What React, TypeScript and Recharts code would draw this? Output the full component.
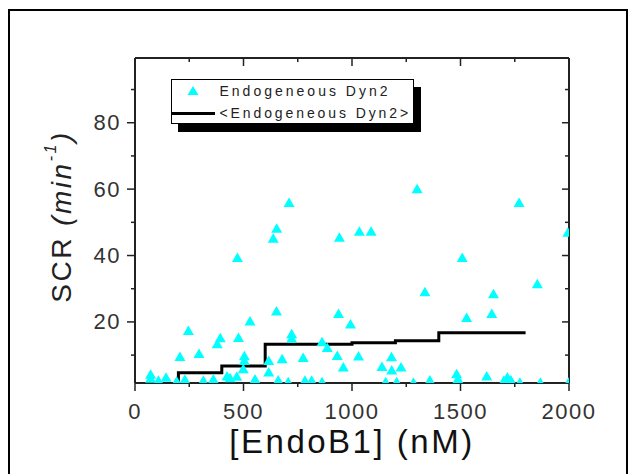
import React from 'react';
import { ComposedChart, Scatter, Line, XAxis, YAxis, Legend, Label } from 'recharts';

// ---- data ----
const seriesNames = ['Endogeneous Dyn2', '<Endogeneous Dyn2>'];
const xTitle = '[EndoB1] (nM)';

const dynX = [
  710, 1300, 1770,
  653, 637, 942, 1034, 1088, 1995,
  472, 1508,
  1854, 1336, 1652,
  652, 938, 1644, 1528,
  530, 993, 246,
  722, 722, 393, 379, 477,
  862, 886,
  207, 295, 504, 504, 678, 775, 932, 1030, 1182, 616,
  960, 1138, 1183, 1226, 616, 499,
  1482, 1488, 1621, 1716, 1732,
  72, 72, 143, 424, 438, 469,
  108, 192, 230, 315, 361, 553, 660, 706, 783, 814, 862, 1155, 1206, 1283, 1359, 1700, 1774, 1868, 1998,
];
const dynY = [
  56, 60.1, 56,
  48.2, 45.2, 45.5, 47.3, 47.3, 47,
  39.4, 39.4,
  31.5, 29.1, 28.5,
  23.3, 22.5, 22.5, 21.3,
  20.3, 19.4, 17.4,
  16.4, 15.1, 15.2, 13.4, 15.3,
  14, 12.3,
  9.6, 10.5, 9.8, 8.4, 8.9, 9.3, 9.9, 9.7, 9.5, 8.4,
  6.4, 6.6, 5.5, 6.4, 4.9, 5.9,
  4.4, 2.9, 3.7, 3.4, 2.6,
  4.2, 3.0, 3.3, 3.7, 3.2, 3.6,
  2.4, 2.2, 2.7, 2.4, 2.8, 2.8, 2.5, 2.0, 2.4, 2.4, 2.0, 2.0, 2.0, 1.8, 2.5, 2.4, 1.8, 1.8, 1.8,
];

const avgX = [200, 200, 400, 600, 1000, 1200, 1400, 1800];
const avgY = [0, 4.7, 6.7, 13.3, 13.7, 14.3, 16.7, 16.7];

const xTicks = [0, 250, 500, 750, 1000, 1250, 1500, 1750, 2000];
const yTicks = [10, 20, 30, 40, 50, 60, 70, 80, 90];

const dynData = dynX.map((x, i) => ({ x, y: dynY[i] }));
const avgData = avgX.map((x, i) => ({ x, y: avgY[i] }));

const FONT = '"Liberation Sans", Arial, sans-serif';
const AXIS = '#222';
const CYAN = '#00FFFF';

const Tri = (props: any) => {
  const { cx, cy } = props;
  if (cx == null || cy == null) return null;
  return (
    <polygon
      points={`${cx - 5.5},${cy + 4.5} ${cx + 5.5},${cy + 4.5} ${cx},${cy - 5}`}
      fill={CYAN}
    />
  );
};

const BottomTick = (p: any) => {
  const { x, y, payload } = p;
  const v = payload.value;
  const major = v % 500 === 0;
  return (
    <g>
      <line x1={x} x2={x} y1={y} y2={y + (major ? 8 : 4)} stroke={AXIS} strokeWidth={1.5} />
      {major && (
        <text x={x} y={y + 28} textAnchor="middle" dominantBaseline="central"
          fontFamily={FONT} fontSize={22} letterSpacing={1.5} fill="#333">{v}</text>
      )}
    </g>
  );
};

const TopTick = (p: any) => {
  const { x, y, payload } = p;
  const major = payload.value % 500 === 0;
  return <line x1={x} x2={x} y1={y} y2={y + (major ? 8 : 4)} stroke={AXIS} strokeWidth={1.5} />;
};

const LeftTick = (p: any) => {
  const { x, y, payload } = p;
  const v = payload.value;
  const major = v % 20 === 0;
  return (
    <g>
      <line x1={x} x2={x - (major ? 8 : 4)} y1={y} y2={y} stroke={AXIS} strokeWidth={1.5} />
      {major && (
        <text x={x - 14} y={y} textAnchor="end" dominantBaseline="central"
          fontFamily={FONT} fontSize={22} letterSpacing={1.5} fill="#333">{v}</text>
      )}
    </g>
  );
};

const RightTick = (p: any) => {
  const { x, y, payload } = p;
  const major = payload.value % 20 === 0;
  return <line x1={x} x2={x - (major ? 7 : 4)} y1={y} y2={y} stroke={AXIS} strokeWidth={1.5} />;
};

const XTitle = (props: any) => {
  const vb = props.viewBox || { x: 135, y: 383, width: 434 };
  return (
    <text x={vb.x + vb.width / 2} y={vb.y + 58} textAnchor="middle" dominantBaseline="central"
      fontFamily={FONT} fontSize={33} letterSpacing={2.5} fill="#111">{xTitle}</text>
  );
};

const YTitle = (props: any) => {
  const vb = props.viewBox || { x: 134, y: 58, width: 1, height: 325 };
  const cx = vb.x + (vb.width || 0) - 74;
  const cy = vb.y + vb.height / 2 - 4;
  return (
    <text x={cx} y={cy} transform={`rotate(-90, ${cx}, ${cy})`} textAnchor="middle"
      dominantBaseline="central" fontFamily={FONT} fontSize={28} letterSpacing={2.5} fill="#222">
      SCR <tspan fontStyle="italic">(min</tspan>
      <tspan fontStyle="italic" fontSize={16} dy={-11}>-1</tspan>
      <tspan fontStyle="italic" dy={11}>)</tspan>
    </text>
  );
};

const LegendBox = () => (
  <div style={{ position: 'relative', width: 243, height: 45 }}>
    <div style={{ position: 'absolute', left: 7, top: 8, width: 243, height: 45, background: '#000' }} />
    <div style={{
      position: 'absolute', left: 0, top: 0, width: 243, height: 45, boxSizing: 'border-box',
      border: '1.5px solid #000', background: '#fff',
    }}>
      <svg width={243} height={45} style={{ position: 'absolute', left: -1.5, top: -1.5 }}>
        <polygon points="16.5,16 27.5,16 22,7" fill={CYAN} />
        <line x1={0} x2={44} y1={34.5} y2={34.5} stroke="#000" strokeWidth={3} />
      </svg>
      <div style={{
        position: 'absolute', left: 47.5, top: 2.5, fontFamily: FONT, fontSize: 14,
        lineHeight: '16px', letterSpacing: 3, color: '#222', whiteSpace: 'nowrap',
      }}>{seriesNames[0]}</div>
      <div style={{
        position: 'absolute', left: 47.5, top: 25, fontFamily: FONT, fontSize: 14,
        lineHeight: '16px', letterSpacing: 2.9, color: '#222', whiteSpace: 'nowrap',
      }}>{seriesNames[1]}</div>
    </div>
  </div>
);

export default function App() {
  return (
    <div style={{ position: 'absolute', left: 0, top: 0, width: 630, height: 474, background: '#fff', overflow: 'hidden' }}>
      <div style={{
        position: 'absolute', left: 8, top: 9, width: 620, height: 480, boxSizing: 'border-box',
        border: '2px solid #000',
      }} />
      <div style={{ position: 'absolute', left: 0, top: 0 }}>
        <ComposedChart width={630} height={474} margin={{ top: 57, right: 60, bottom: 90, left: 134 }}>
          <XAxis xAxisId="bottom" type="number" dataKey="x" domain={[0, 2000]} ticks={xTicks}
            allowDataOverflow orientation="bottom" height={1} interval={0}
            tickLine={false} tickSize={0} tickMargin={0} tick={BottomTick}
            axisLine={{ stroke: AXIS, strokeWidth: 2 }}>
            <Label content={XTitle} />
          </XAxis>
          <XAxis xAxisId="top" type="number" dataKey="x" domain={[0, 2000]} ticks={xTicks}
            allowDataOverflow orientation="top" height={1} interval={0}
            tickLine={false} tickSize={0} tickMargin={0} tick={TopTick}
            axisLine={{ stroke: AXIS, strokeWidth: 2 }} />
          <YAxis yAxisId="left" type="number" dataKey="y" domain={[1.6, 99.5]} ticks={yTicks}
            allowDataOverflow orientation="left" width={1} interval={0}
            tickLine={false} tickSize={0} tickMargin={0} tick={LeftTick}
            axisLine={{ stroke: AXIS, strokeWidth: 2 }}>
            <Label content={YTitle} />
          </YAxis>
          <YAxis yAxisId="right" type="number" dataKey="y" domain={[1.6, 99.5]} ticks={yTicks}
            allowDataOverflow orientation="right" width={1} interval={0}
            tickLine={false} tickSize={0} tickMargin={0} tick={RightTick}
            axisLine={{ stroke: AXIS, strokeWidth: 2 }} />
          <Scatter name={seriesNames[0]} data={dynData} xAxisId="bottom" yAxisId="left"
            dataKey="y" fill={CYAN} shape={Tri} isAnimationActive={false} />
          <Line name={seriesNames[1]} data={avgData} xAxisId="bottom" yAxisId="left"
            dataKey="y" type="stepAfter" stroke="#000" strokeWidth={3} dot={false}
            isAnimationActive={false} />
          <Legend layout="horizontal" verticalAlign="middle" align="center" content={LegendBox}
            wrapperStyle={{ position: 'absolute', left: 171, top: 79, width: 250, height: 53 }} />
        </ComposedChart>
      </div>
    </div>
  );
}
